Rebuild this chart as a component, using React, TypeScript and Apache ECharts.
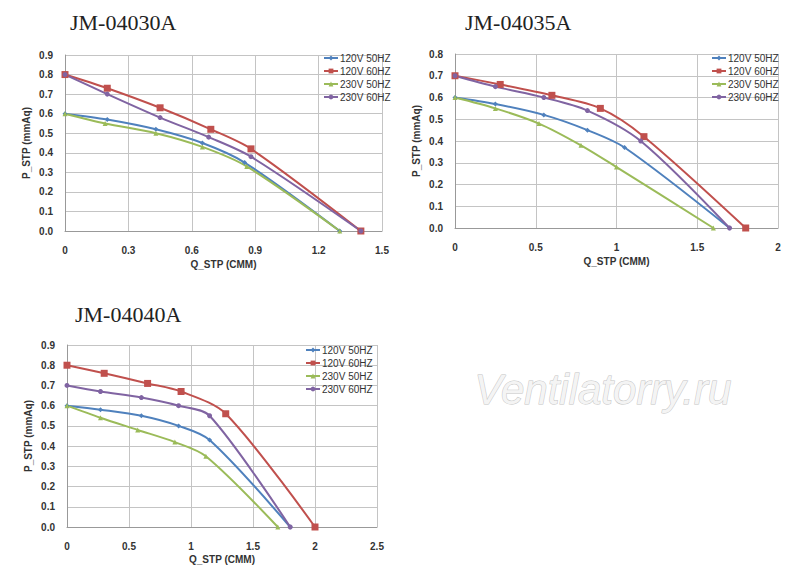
import React, { useEffect, useRef } from "react";
import * as echarts from "echarts";

const seriesNames = ["120V 50HZ", "120V 60HZ", "230V 50HZ", "230V 60HZ"];
const colors = ["#4F81BD", "#C0504D", "#9BBB59", "#8064A2"];
const symbols = ["diamond", "rect", "triangle", "circle"];
const titles = ["JM-04030A", "JM-04035A", "JM-04040A"];

// chart 1: JM-04030A
const a1 = [[0, 0.6], [0.2, 0.57], [0.43, 0.52], [0.65, 0.45], [0.85, 0.35], [1.3, 0]];
const a2 = [[0, 0.8], [0.2, 0.73], [0.45, 0.63], [0.69, 0.52], [0.88, 0.42], [1.4, 0]];
const a3 = [[0, 0.6], [0.19, 0.55], [0.43, 0.5], [0.65, 0.43], [0.86, 0.33], [1.3, 0]];
const a4 = [[0, 0.8], [0.2, 0.7], [0.45, 0.58], [0.68, 0.48], [0.88, 0.38], [1.4, 0]];
// chart 2: JM-04035A
const b1 = [[0, 0.6], [0.25, 0.57], [0.55, 0.52], [0.82, 0.45], [1.05, 0.37], [1.7, 0]];
const b2 = [[0, 0.7], [0.28, 0.66], [0.6, 0.61], [0.9, 0.55], [1.17, 0.42], [1.8, 0]];
const b3 = [[0, 0.6], [0.25, 0.55], [0.52, 0.48], [0.78, 0.38], [1.0, 0.28], [1.6, 0]];
const b4 = [[0, 0.7], [0.25, 0.65], [0.55, 0.6], [0.82, 0.54], [1.15, 0.4], [1.7, 0]];
// chart 3: JM-04040A
const c1 = [[0, 0.6], [0.27, 0.58], [0.6, 0.55], [0.9, 0.5], [1.15, 0.43], [1.8, 0]];
const c2 = [[0, 0.8], [0.3, 0.76], [0.65, 0.71], [0.92, 0.67], [1.28, 0.56], [2.0, 0]];
const c3 = [[0, 0.6], [0.27, 0.54], [0.57, 0.48], [0.87, 0.42], [1.12, 0.35], [1.7, 0]];
const c4 = [[0, 0.7], [0.27, 0.67], [0.6, 0.64], [0.9, 0.6], [1.15, 0.55], [1.8, 0]];

const chartData = [[a1, a2, a3, a4], [b1, b2, b3, b4], [c1, c2, c3, c4]];
const xMax = [1.5, 2, 2.5];
const xStep = [0.3, 0.5, 0.5];
const yMax = [0.9, 0.8, 0.9];

const grids = [
  { left: 65, top: 55, width: 317, height: 176 },
  { left: 455, top: 54, width: 323, height: 174 },
  { left: 67, top: 345, width: 310, height: 182 },
];
const titlePos = [
  { left: 65, top: 6 },
  { left: 460, top: 6 },
  { left: 70, top: 298 },
];
const legendPos = [
  { left: 318, top: 48 },
  { left: 706, top: 48 },
  { left: 300, top: 340 },
];

const App: React.FC = () => {
  const ref = useRef<HTMLDivElement>(null);

  useEffect(() => {
    document.body.style.margin = "0";
    if (!ref.current) return;
    const chart = echarts.init(ref.current, undefined, { renderer: "svg" });
    const axisText = { fontSize: 10, color: "#333", fontFamily: "Liberation Sans", fontWeight: "bold" as const };
    const gridLine = { show: true, lineStyle: { color: "#c4c4c4", width: 1 } };

    const series: any[] = [];
    chartData.forEach((sets, gi) => {
      sets.forEach((d, si) => {
        series.push({
          name: seriesNames[si],
          type: "line",
          xAxisIndex: gi,
          yAxisIndex: gi,
          data: d,
          smooth: 0.3,
          symbol: symbols[si],
          symbolSize: si === 1 ? 7 : 5,
          lineStyle: { color: colors[si], width: 2 },
          itemStyle: { color: colors[si] },
        });
      });
    });

    chart.setOption({
      animation: false,
      textStyle: { fontFamily: "Liberation Sans" },
      title: titles.map((t, i) => ({
        text: t,
        ...titlePos[i],
        textStyle: { fontFamily: "Liberation Serif", fontSize: 22, fontWeight: "normal", color: "#222" },
      })),
      grid: grids,
      legend: legendPos.map((p) => ({
        ...p,
        orient: "vertical",
        data: seriesNames,
        itemWidth: 14,
        itemHeight: 6,
        itemGap: 3,
        textStyle: { fontSize: 10, color: "#333", padding: [0, 0, 0, -3] },
      })),
      xAxis: grids.map((_, i) => ({
        type: "value",
        gridIndex: i,
        min: 0,
        max: xMax[i],
        interval: xStep[i],
        name: "Q_STP (CMM)",
        nameLocation: "middle",
        nameGap: i === 2 ? 27 : 28,
        nameTextStyle: { ...axisText },
        axisLine: { show: true, lineStyle: { color: "#999" } },
        axisTick: { show: false },
        axisLabel: { ...axisText, margin: 14, formatter: (v: number) => (v === 0 ? "0" : String(v)) },
        splitLine: gridLine,
      })),
      yAxis: grids.map((_, i) => ({
        type: "value",
        gridIndex: i,
        min: 0,
        max: yMax[i],
        interval: 0.1,
        name: "P_STP (mmAq)",
        nameLocation: "middle",
        nameGap: 34,
        nameTextStyle: { ...axisText },
        axisLine: { show: true, lineStyle: { color: "#999" } },
        axisTick: { show: false },
        axisLabel: { ...axisText, margin: 12, formatter: (v: number) => v.toFixed(1) },
        splitLine: gridLine,
      })),
      graphic: [
        {
          type: "text",
          left: 474,
          top: 368,
          style: {
            text: "Ventilatorry.ru",
            font: "italic 42px 'Liberation Sans'",
            fill: "#f4f4f4",
            stroke: "#c4c4c4",
            lineWidth: 1,
          },
        },
      ],
      series,
    });
    return () => chart.dispose();
  }, []);

  return <div ref={ref} style={{ width: 800, height: 583 }} />;
};

export default App;
